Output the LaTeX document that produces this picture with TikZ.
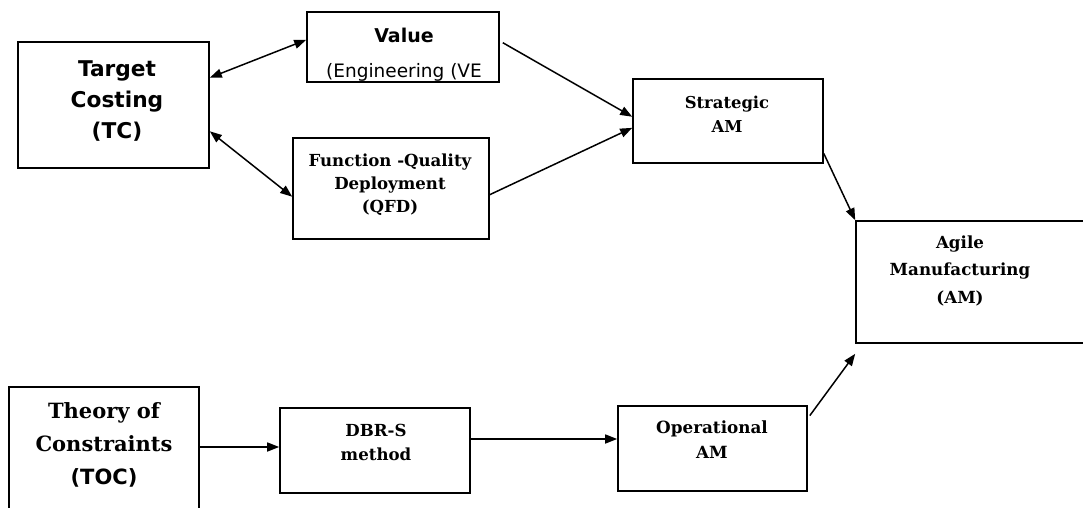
\documentclass[tikz,border=0pt]{standalone}
\usepackage{fontspec}
\setmainfont{DejaVu Serif}
\newfontfamily\vsans{DejaVu Sans}
\usetikzlibrary{arrows.meta,calc}
\begin{document}
\begin{tikzpicture}[x=1pt,y=-1pt,
  box/.style={draw,line width=1.6pt,rectangle,inner sep=0pt},
  arr/.style={line width=1.5pt,-{Triangle[length=12pt,width=9pt]}},
  darr/.style={line width=1.5pt,{Triangle[length=12pt,width=9pt]}-{Triangle[length=12pt,width=9pt]}},
  lbl/.style={align=center,inner sep=0pt}]
\useasboundingbox (0,0) rectangle (1083,508);
\clip (0,0) rectangle (1083,508);
% boxes
\node[box,minimum width=191pt,minimum height=126pt] (tc) at (113.5,105) {};
\node[box,minimum width=192pt,minimum height=70pt] (ve) at (403,47) {};
\node[box,minimum width=196pt,minimum height=101pt] (qfd) at (391,188.5) {};
\node[box,minimum width=190pt,minimum height=84pt] (sam) at (728,121) {};
\node[box,minimum width=239pt,minimum height=122pt] (agile) at (975.5,282) {};
\node[box,minimum width=190pt,minimum height=153pt] (toc) at (104,463.5) {};
\node[box,minimum width=190pt,minimum height=85pt] (dbr) at (375,450.5) {};
\node[box,minimum width=189pt,minimum height=85pt] (op) at (712.5,448.5) {};
% texts
\node[lbl,font=\vsans\bfseries\fontsize{21.7}{31}\selectfont] (tctxt) at (117,101) {Target\\Costing\\(TC)};
\node[lbl,font=\vsans\fontsize{19}{35}\selectfont] (vetxt) at (404,54.5) {\bfseries Value\\{\fontsize{18.5}{35}\selectfont (Engineering (VE}};
\node[lbl,font=\bfseries\fontsize{16.6}{23}\selectfont] (qfdtxt) at (390,185) {Function -Quality\\Deployment\\(QFD)};
\node[lbl,font=\bfseries\fontsize{16.4}{24}\selectfont] (samtxt) at (727,114) {Strategic\\AM};
\node[lbl,font=\bfseries\fontsize{16.7}{27.5}\selectfont] (agtxt) at (960,270.5) {Agile\\Manufacturing\\(AM)};
\node[lbl,font=\bfseries\fontsize{21}{33}\selectfont] (toctxt) at (104,445) {Theory of\\Constraints\\{\vsans\fontsize{21}{33}\selectfont (TOC)}};
\node[lbl,font=\bfseries\fontsize{16.6}{24}\selectfont] (dbrtxt) at (376,442) {DBR-S\\method};
\node[lbl,font=\bfseries\fontsize{16.8}{25}\selectfont] (optxt) at (712,439.5) {Operational\\AM};
% connectors
\draw[darr] ($(tc.north east)!0.286!(tc.south east)$) -- ($(ve.north west)!0.4!(ve.south west)$);
\draw[darr] ($(tc.north east)!0.706!(tc.south east)$) -- ($(qfd.north west)!0.58!(qfd.south west)$);
\draw[arr] ($(ve.north east)!0.44!(ve.south east)+(3,0)$) -- ($(sam.north west)!0.45!(sam.south west)$);
\draw[arr] ($(qfd.north east)!0.56!(qfd.south east)$) -- ($(sam.north west)!0.58!(sam.south west)$);
\draw[arr] ($(sam.north east)!0.88!(sam.south east)$) -- (agile.north west);
\draw[arr] ($(op.north east)!0.12!(op.south east)+(2,0)$) -- ($(agile.south west)+(0,10)$);
\coordinate (t1) at ($(dbr.west)+(0,-3.5)$);
\draw[arr] (toc.east |- t1) -- (t1);
\coordinate (t2) at ($(op.west)+(0,-9.5)$);
\draw[arr] (dbr.east |- t2) -- (t2);
\end{tikzpicture}
\end{document}
